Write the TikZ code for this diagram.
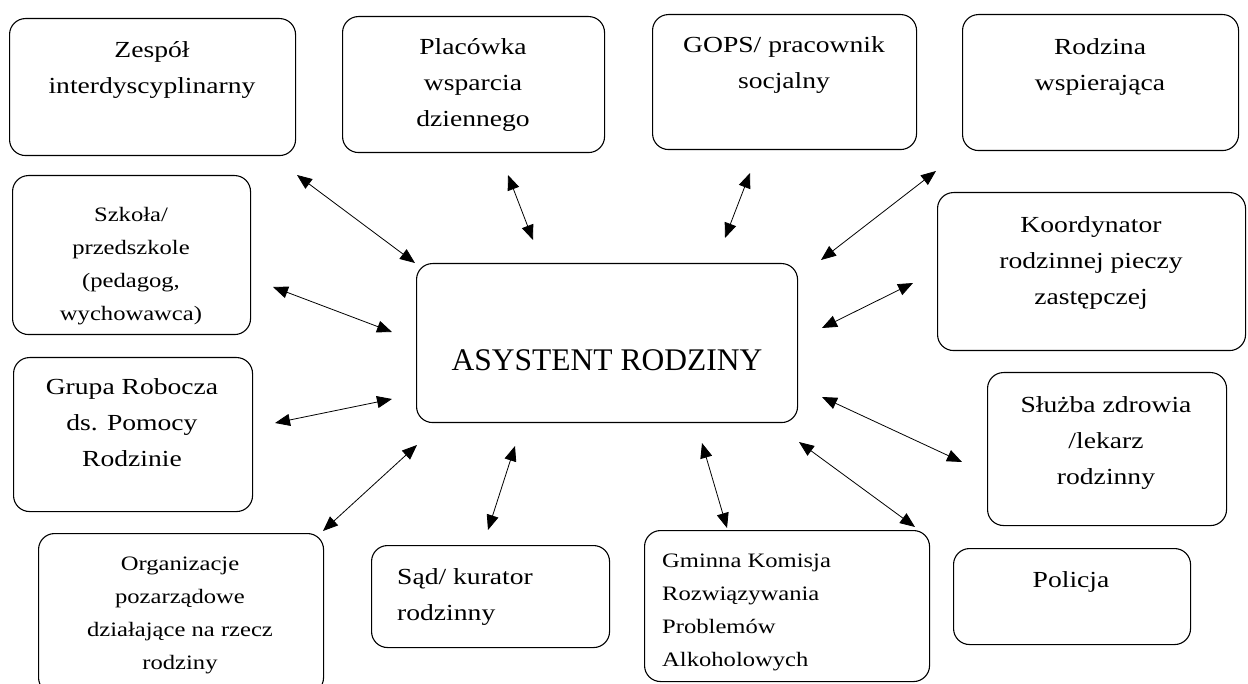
\documentclass[tikz,border=0pt]{standalone}
\usepackage{fontspec}
\setmainfont{Liberation Serif}[FakeStretch=1.2]
\newfontfamily\titlefont{Liberation Serif}
\usetikzlibrary{arrows.meta}

% wiersze tekstu w ramce, pierwszy wiersz jako linia bazowa
\newcommand\boxlines[2][c]{\begin{tabular}[t]{@{}#1@{}}#2\end{tabular}}

\begin{document}
\begin{tikzpicture}[x=1pt, y=-1pt]
    % ================= style =================
    \tikzset{
        % ramka z zaokraglonymi rogami
        frame/.style={draw=black, line width=1.1pt, rounded corners=16pt, anchor=north west, inner sep=0pt},
        % tekst w ramce
        txt/.style={anchor=base, inner sep=0pt, font=\fontsize{23}{36}\selectfont},
        smalltxt/.style={txt, font=\fontsize{20.5}{33}\selectfont},
        % strzalka w obie strony
        link/.style={{Triangle[length=15pt,width=12pt]}-{Triangle[length=15pt,width=12pt]}, line width=0.8pt}
    }
    \useasboundingbox (0,0) rectangle (1248,684);

    % ================= ramki =================
    \node[frame, minimum width=286pt, minimum height=137pt] (zespol) at (9,18) {};
    \node[frame, minimum width=262pt, minimum height=136pt] (placowka) at (342,16) {};
    \node[frame, minimum width=264pt, minimum height=135pt] (gops) at (652,14) {};
    \node[frame, minimum width=276pt, minimum height=136pt] (wspierajaca) at (962,14) {};
    \node[frame, minimum width=238pt, minimum height=159pt] (szkola) at (12,175) {};
    \node[frame, minimum width=308pt, minimum height=158pt] (koordynator) at (937,192) {};
    \node[frame, minimum width=381pt, minimum height=159pt] (asystent) at (416,263) {};
    \node[frame, minimum width=239pt, minimum height=154pt] (grupa) at (13,357) {};
    \node[frame, minimum width=239pt, minimum height=153pt] (zdrowie) at (987,372) {};
    \node[frame, minimum width=285pt, minimum height=160pt] (organizacje) at (38,533) {};
    \node[frame, minimum width=238pt, minimum height=102pt] (sad) at (371,545) {};
    \node[frame, minimum width=285pt, minimum height=151pt] (gkrpa) at (644,530) {};
    \node[frame, minimum width=237pt, minimum height=96pt] (policja) at (953,548) {};

    % ================= teksty =================
    \node[txt] (zespol-t) at (152,58) {\boxlines{Zespół\\interdyscyplinarny}};
    \node[txt] (placowka-t) at (473,55) {\boxlines{Placówka\\wsparcia\\dziennego}};
    \node[txt] (gops-t) at (784,53) {\boxlines{GOPS/ pracownik\\socjalny}};
    \node[txt] (wspierajaca-t) at (1100,55) {\boxlines{Rodzina\\wspierająca}};
    \node[smalltxt] (szkola-t) at (131,222) {\boxlines{Szkoła/\\przedszkole\\(pedagog,\\wychowawca)}};
    \node[txt] (koordynator-t) at (1091,233) {\boxlines{Koordynator\\rodzinnej pieczy\\zastępczej}};
    \node[txt, font=\titlefont\fontsize{31.5}{36}\selectfont] (asystent-t) at (607,371) {ASYSTENT RODZINY};
    \node[txt] (grupa-t) at (132,395) {\boxlines{Grupa Robocza\\ds. Pomocy\\Rodzinie}};
    \node[txt] (zdrowie-t) at (1106,413) {\boxlines{Służba zdrowia\\/lekarz\\rodzinny}};
    \node[smalltxt] (organizacje-t) at (180,570) {\boxlines{Organizacje\\pozarządowe\\działające na rzecz\\rodziny}};
    \node[txt, anchor=base west] (sad-t) at (397,584) {\boxlines[l]{Sąd/ kurator\\rodzinny}};
    \node[smalltxt, anchor=base west] (gkrpa-t) at (662,567) {\boxlines[l]{Gminna Komisja\\Rozwiązywania\\Problemów\\Alkoholowych}};
    \node[txt] (policja-t) at (1071,587) {Policja};

    % ================= konce strzalek =================
    \coordinate (zespol-a) at (297,175);      \coordinate (zespol-b) at (415,263);
    \coordinate (placowka-a) at (508,175);    \coordinate (placowka-b) at (533,240);
    \coordinate (gops-a) at (750,173);        \coordinate (gops-b) at (725,238);
    \coordinate (wspierajaca-a) at (936,171); \coordinate (wspierajaca-b) at (821,260);
    \coordinate (szkola-a) at (273,287);      \coordinate (szkola-b) at (392,332);
    \coordinate (koordynator-a) at (913,283); \coordinate (koordynator-b) at (822,328);
    \coordinate (grupa-a) at (275,423);       \coordinate (grupa-b) at (392,399);
    \coordinate (zdrowie-a) at (822,397);     \coordinate (zdrowie-b) at (962,462);
    \coordinate (organizacje-a) at (323,531); \coordinate (organizacje-b) at (417,445);
    \coordinate (sad-a) at (515,446);         \coordinate (sad-b) at (488,530);
    \coordinate (gkrpa-a) at (702,443);       \coordinate (gkrpa-b) at (727,528);
    \coordinate (policja-a) at (799,442);     \coordinate (policja-b) at (915,527);

    % ================= strzalki =================
    \draw[link] (zespol-a) -- (zespol-b);
    \draw[link] (placowka-a) -- (placowka-b);
    \draw[link] (gops-a) -- (gops-b);
    \draw[link] (wspierajaca-a) -- (wspierajaca-b);
    \draw[link] (szkola-a) -- (szkola-b);
    \draw[link] (koordynator-a) -- (koordynator-b);
    \draw[link] (grupa-a) -- (grupa-b);
    \draw[link] (zdrowie-a) -- (zdrowie-b);
    \draw[link] (organizacje-a) -- (organizacje-b);
    \draw[link] (sad-a) -- (sad-b);
    \draw[link] (gkrpa-a) -- (gkrpa-b);
    \draw[link] (policja-a) -- (policja-b);

\end{tikzpicture}
\end{document}
